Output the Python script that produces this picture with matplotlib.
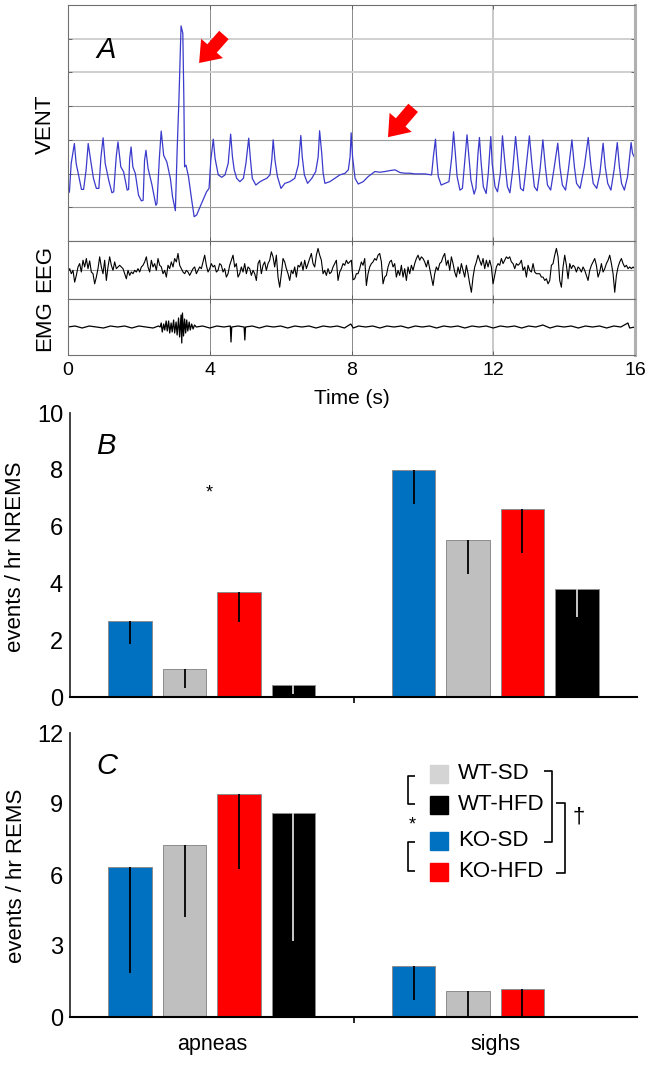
import numpy as np
import matplotlib
matplotlib.use('Agg')
import matplotlib.pyplot as plt
from matplotlib.patches import FancyArrowPatch

plt.rcParams['font.family'] = ['Liberation Sans', 'DejaVu Sans']

# ---------------- panel A data ----------------
time_ticks = [0, 4, 8, 12, 16]

# ventilation trace, (time s, grid units)
vent_pts = [
    (0.00, 1.40), (0.04, 1.46), (0.09, 2.30), (0.18, 2.89), (0.23, 2.30), (0.28, 2.05), (0.38, 1.53), (0.44, 1.53),
    (0.51, 2.10), (0.57, 2.89), (0.66, 2.25), (0.72, 1.85), (0.80, 1.56), (0.87, 1.56),
    (0.93, 2.49), (0.99, 3.06), (1.05, 2.30), (1.15, 1.80), (1.24, 1.43), (1.29, 1.46),
    (1.36, 2.49), (1.41, 2.94), (1.49, 2.20), (1.57, 2.05), (1.67, 1.51), (1.71, 1.53),
    (1.74, 2.44), (1.78, 2.79), (1.83, 2.20), (1.90, 2.00), (1.99, 1.36), (2.07, 1.19), (2.12, 1.21),
    (2.16, 2.39), (2.20, 2.69), (2.26, 2.15), (2.37, 1.66), (2.48, 1.06), (2.51, 1.11),
    (2.58, 2.49), (2.63, 3.26), (2.70, 2.54), (2.79, 2.34), (2.89, 1.85), (2.95, 1.31), (3.03, 0.90),
    (3.08, 2.70), (3.13, 4.18), (3.19, 6.38), (3.24, 6.16), (3.27, 4.18), (3.29, 2.20), (3.33, 2.25),
    (3.40, 1.91), (3.49, 1.22), (3.56, 0.72), (3.63, 0.77), (3.77, 1.12), (3.91, 1.46), (3.98, 1.56),
    (4.03, 2.40), (4.10, 3.02), (4.15, 2.45), (4.24, 1.96), (4.34, 1.89), (4.43, 1.96), (4.52, 2.30),
    (4.59, 3.17), (4.64, 2.50), (4.69, 2.11), (4.76, 1.86), (4.85, 1.76), (4.95, 1.86),
    (5.02, 2.30), (5.10, 3.05), (5.15, 2.40), (5.20, 1.86), (5.30, 1.66), (5.42, 1.76), (5.51, 1.81),
    (5.61, 1.86), (5.70, 1.96), (5.75, 2.40), (5.79, 3.00), (5.84, 2.40), (5.91, 1.91),
    (6.01, 1.56), (6.12, 1.71), (6.26, 1.76), (6.40, 1.86), (6.50, 2.26), (6.57, 3.13), (6.61, 2.50),
    (6.67, 1.96), (6.76, 1.71), (6.88, 1.86), (6.99, 2.06), (7.06, 2.50), (7.10, 3.27),
    (7.16, 2.60), (7.20, 2.01), (7.25, 1.71), (7.39, 1.76), (7.53, 1.86), (7.67, 1.96), (7.82, 2.01),
    (7.91, 2.11), (7.96, 2.50), (7.99, 3.21), (8.03, 2.50), (8.10, 1.86), (8.19, 1.69),
    (8.33, 1.76), (8.47, 1.91), (8.66, 2.06), (8.80, 2.04), (8.94, 2.06), (9.09, 2.09), (9.23, 2.11),
    (9.37, 2.03), (9.51, 2.01), (9.65, 2.01), (9.79, 1.99), (9.93, 1.99), (10.07, 1.99), (10.26, 1.96),
    (10.31, 2.50), (10.37, 3.02), (10.40, 2.50), (10.45, 1.91), (10.53, 1.66), (10.64, 1.71), (10.75, 1.76),
    (10.83, 2.50), (10.88, 3.24), (10.93, 2.60), (10.98, 1.91), (11.06, 1.51), (11.13, 1.56),
    (11.20, 2.40), (11.26, 3.15), (11.32, 2.40), (11.37, 1.81), (11.46, 1.39), (11.51, 1.56),
    (11.57, 2.60), (11.61, 3.07), (11.66, 2.30), (11.72, 1.61), (11.80, 1.41), (11.86, 2.01),
    (11.93, 3.10), (11.97, 2.30), (12.05, 1.61), (12.12, 1.46), (12.20, 2.00),
    (12.26, 3.12), (12.33, 2.30), (12.40, 1.61), (12.47, 1.43), (12.55, 2.11),
    (12.63, 3.10), (12.71, 2.20), (12.77, 1.56), (12.85, 1.49), (12.92, 2.11),
    (13.02, 3.12), (13.09, 2.30), (13.16, 1.61), (13.24, 1.49), (13.32, 2.11),
    (13.40, 3.00), (13.47, 2.20), (13.53, 1.66), (13.62, 1.51), (13.71, 2.11),
    (13.82, 2.90), (13.88, 2.20), (13.95, 1.66), (14.04, 1.51), (14.12, 2.11),
    (14.22, 3.00), (14.29, 2.20), (14.35, 1.71), (14.45, 1.56), (14.57, 2.20),
    (14.68, 3.07), (14.75, 2.30), (14.82, 1.71), (14.92, 1.56), (15.01, 2.01),
    (15.10, 2.90), (15.16, 2.20), (15.23, 1.71), (15.32, 1.51), (15.41, 2.11),
    (15.50, 2.92), (15.56, 2.20), (15.62, 1.71), (15.70, 1.51), (15.79, 1.91),
    (15.89, 2.92), (15.93, 2.60), (16.00, 2.45),
]

# EEG samples (arbitrary units), sampled at eeg_fs
eeg_fs = 21.26
eeg = [
    -7, 3, -12, -2, -37, -17, 8, 18, -7, 28, 8, 33, 3, 26, -7, -12, -42, -22, 3, 38, 8,
    -12, 28, -32, 8, 38, 13, -2, 23, 3, 8, 13, 8, 3, -12, -27, -2, -17, -7, -12, -2,
    -7, 3, -7, 8, 13, 23, 38, 8, -7, 28, 8, 18, -2, 33, 13, 8, -12, -2, -22, 13,
    3, 23, 8, 33, 23, 48, 13, 3, -7, -12, -2, -7, -17, -7, 3, 8, -12, -2, 8, 3,
    23, 43, 13, -7, 3, 18, 8, 13, -7, -2, 18, 13, -7, 3, -22, -12, 13, 28, 43, 8,
    18, -22, -12, 8, -7, 18, -12, 8, 3, -17, -2, -12, -32, 18, 28, -12, 13, 23, -2, 18,
    28, 53, 38, 8, 43, -22, -52, -12, 33, 23, 3, -12, -32, -2, -12, 8, -22, 13, 8, 23,
    -2, 28, 3, 18, 33, 48, 18, 8, 43, 63, 43, 28, -12, -2, -17, 3, -12, -7, 8, 18,
    28, -32, -7, 3, 18, 13, 28, 18, 23, 28,
    -30, -27, -12, -12, 3, 23, 13, 33, -47, -12, 8, 18, 23, 33, 28, 43, 48, 23, -42, -22,
    -17, 8, 23, 28, 8, 18, -22, -2, -17, 13, -22, 3, -32, 8, -12, 13, -2, 18, 33, 43,
    28, 38, 33, 23, 8, 28, 3, -22, -47, -12, 8, -2, 18, 23, 38, 48, 13, 28, -2, 38,
    18, -7, -22, 8, -12, 18, -2, -22, 13, -12, -42, -67, -22, 8, 23, 43, 28, 13, 33, 3,
    28, 8, 28, 8, -42, -17, 8, 18, 13, 33, 18, 28, 38, 33, 38, 23, 18, 3, 18, 13,
    18, 28, -2, 8, -22, 13, -2, -7, 18, -7, -12, -12, -12, -22, -22, -32, -27, -42, -32, 13,
    18, 43, 63, 38, -32, -52, 8, 43, 13, -27, 18, 3, 13, 8, -7, 8, 3, -7, 8, -2,
    -17, -32, -2, 13, 23, 33, 13, -22, -7, 18, -7, 3, 18, 28, 43, 18, -12, -67, -17, 8,
    23, 33, 18, 8, 13, 3, 8, 3, 8, 3,
]

# EMG trace, (time s, arbitrary units)
emg_pts = [
    (0.00, 0), (0.20, 1), (0.40, -1), (0.60, 1), (0.80, 0), (1.00, -1), (1.20, 1), (1.40, 0),
    (1.60, 1), (1.80, -1), (2.00, 1), (2.20, 0), (2.40, -1), (2.55, 1),
    (2.60, 0), (2.63, 4), (2.66, -5), (2.70, 3), (2.73, -3), (2.77, 6), (2.80, -4), (2.84, 6),
    (2.87, -6), (2.91, 4), (2.94, -5), (2.98, 7), (3.01, -6), (3.05, 5), (3.08, -8), (3.12, 9),
    (3.15, -10), (3.19, 12), (3.21, -16), (3.23, 14), (3.26, -9), (3.29, 8), (3.32, -6), (3.35, 7),
    (3.38, -4), (3.42, 5), (3.45, -3), (3.49, 3), (3.53, -2), (3.57, 2), (3.62, 0),
    (3.80, 1), (4.00, -1), (4.20, 1), (4.40, 0), (4.58, 1), (4.60, -15), (4.62, 0), (4.80, 1),
    (4.97, 0), (4.99, -13), (5.01, 0), (5.20, 1), (5.40, -1), (5.60, 1), (5.80, 0), (6.00, 1),
    (6.20, -1), (6.40, 1), (6.60, 0), (6.80, 1), (7.00, -1), (7.20, 1), (7.40, 0), (7.60, 1),
    (7.80, -1), (7.98, 3), (8.05, -1), (8.20, 1), (8.40, 0), (8.60, 1), (8.80, -1), (9.00, 1),
    (9.20, 0), (9.40, 1), (9.60, -1), (9.80, 1), (10.00, 0), (10.20, 1), (10.40, -1), (10.60, 1),
    (10.80, 0), (11.00, 1), (11.20, -1), (11.40, 1), (11.60, 0), (11.80, 1), (12.00, -1),
    (12.20, 1), (12.40, 0), (12.60, 1), (12.80, -1), (13.00, 1), (13.20, 0), (13.40, 2),
    (13.60, -1), (13.80, 1), (14.00, 0), (14.20, 1), (14.40, -1), (14.60, 1), (14.80, 0),
    (15.00, 1), (15.20, -1), (15.40, 1), (15.60, 0), (15.80, 4), (15.85, -1), (16.00, 0),
]

# ---------------- panels B / C data ----------------
groups = ['apneas', 'sighs']
bar_order = ['KO-SD', 'WT-SD', 'KO-HFD', 'WT-HFD']
nrems_mean = [[2.68, 7.98], [1.00, 5.52], [3.70, 6.63], [0.41, 3.80]]
nrems_err = [[0.80, 1.17], [0.67, 1.18], [1.06, 1.56], [0.32, 0.99]]
rems_mean = [[6.34, 2.14], [7.25, 1.10], [9.42, 1.17], [8.62, 0.00]]
rems_err = [[4.48, 1.44], [3.01, 1.10], [3.17, 1.17], [5.42, 0.00]]
legend_order = ['WT-SD', 'WT-HFD', 'KO-SD', 'KO-HFD']

colors = {'KO-SD': '#0070C0', 'WT-SD': '#BFBFBF', 'KO-HFD': '#FF0000', 'WT-HFD': '#000000'}
legend_colors = {'KO-SD': '#0070C0', 'WT-SD': '#D4D4D4', 'KO-HFD': '#FF0000', 'WT-HFD': '#000000'}
err_colors = {'KO-SD': 'black', 'WT-SD': 'black', 'KO-HFD': 'black', 'WT-HFD': '#D9D9D9'}

W, H = 649, 1065
fig = plt.figure(figsize=(W / 100, H / 100), dpi=100)


def box(x0, y0, x1, y1):
    return [x0 / W, 1 - y1 / H, (x1 - x0) / W, (y1 - y0) / H]


ax_v = fig.add_axes(box(68, 5, 635, 241))
ax_e = fig.add_axes(box(68, 241, 635, 299), sharex=ax_v)
ax_m = fig.add_axes(box(68, 299, 635, 355), sharex=ax_v)
ax_b = fig.add_axes(box(70, 413, 637, 697))
ax_c = fig.add_axes(box(70, 733, 637, 1017))

# ---------------- panel A ----------------
for ax in (ax_v, ax_e, ax_m):
    ax.set_xlim(0, 16)
    ax.set_xticks(time_ticks)
    ax.tick_params(direction='in', length=3, width=0.6, color='#555555', top=True, right=True,
                   labelbottom=False, labelleft=False)
    for s in ax.spines.values():
        s.set_color('#707070')
        s.set_linewidth(0.8)
    ax.spines['right'].set_color('#b0b0b0')
    ax.spines['right'].set_linewidth(2.2)
    ax.axvline(4, color='#8a8a8a', lw=0.7, zorder=0)
    ax.axvline(8, color='#8a8a8a', lw=0.7, zorder=0)
    ax.axvline(12, color='#c4c4c4', lw=1.3, zorder=0)

ax_v.set_ylim(0, 7)
ax_v.set_yticks(range(8))
for g in range(1, 7):
    if g >= 5:
        ax_v.axhline(g, color='#d0d0d0', lw=1.4, zorder=0)
    else:
        ax_v.axhline(g, color='#9a9a9a', lw=0.8, zorder=0)
vt = [p[0] for p in vent_pts]
vv = [p[1] for p in vent_pts]
ax_v.plot(vt, vv, color='#3a3acc', lw=0.9)
ax_v.text(1.07, 5.68, 'A', fontsize=21, style='italic', ha='center', va='center')

for tail, tip in [((4.40, 6.11), (3.70, 5.28)), ((9.74, 3.95), (9.03, 3.08))]:
    ax_v.add_patch(FancyArrowPatch(tail, tip, arrowstyle='simple,head_length=1.0,head_width=1.5,tail_width=0.65',
                                   mutation_scale=14, color='#FF0000', shrinkA=0, shrinkB=0, lw=0))

ax_e.set_ylim(-87, 85)
ax_e.set_yticks([-87, 85])
ax_e.axhline(0, color='#9a9a9a', lw=0.8, zorder=0)
eeg_t = np.arange(len(eeg)) / eeg_fs
ax_e.plot(eeg_t, eeg, color='black', lw=0.8)

ax_m.set_ylim(-28, 28)
ax_m.set_yticks([-28, 28])
ax_m.plot([p[0] for p in emg_pts], [p[1] for p in emg_pts], color='black', lw=0.9)
ax_m.tick_params(labelbottom=True, labelsize=14, pad=5)

fig.text(45 / W, 1 - 124 / H, 'VENT', rotation=90, fontsize=16, ha='center', va='center')
fig.text(45 / W, 1 - 269 / H, 'EEG', rotation=90, fontsize=16, ha='center', va='center')
fig.text(45 / W, 1 - 326 / H, 'EMG', rotation=90, fontsize=16, ha='center', va='center')
fig.text(352 / W, 1 - 399 / H, 'Time (s)', fontsize=15, ha='center', va='center')

# ---------------- panels B and C ----------------
x = np.arange(len(groups))
width = 0.153
step = 0.192
offsets = [-1.5, -0.5, 0.5, 1.5]


def draw_bars(ax, means, errs):
    for i, name in enumerate(bar_order):
        xs = x + offsets[i] * step
        ax.bar(xs, means[i], width, color=colors[name], edgecolor='#8c8c8c', linewidth=0.7, zorder=2)
        ax.errorbar(xs, means[i], yerr=[errs[i], np.zeros(len(groups))], fmt='none',
                    ecolor=err_colors[name], elinewidth=1.3, capsize=0, zorder=3)
    ax.set_xlim(-0.5, 1.5)
    for s in ['top', 'right']:
        ax.spines[s].set_visible(False)
    ax.spines['left'].set_color('#333333')
    ax.spines['left'].set_linewidth(1.3)
    ax.spines['bottom'].set_linewidth(1.5)
    ax.set_xticks(x)
    ax.set_xticks([0.5], minor=True)
    ax.tick_params(axis='x', which='major', length=0)
    ax.tick_params(axis='x', which='minor', length=4, width=1.2, direction='out')
    ax.tick_params(axis='y', length=0, labelsize=17, pad=5)


draw_bars(ax_b, nrems_mean, nrems_err)
ax_b.set_ylim(0, 10)
ax_b.set_yticks(range(0, 11, 2))
ax_b.set_xticklabels([])
ax_b.text(-0.373, 8.84, 'B', fontsize=21, style='italic', ha='center', va='center')
ax_b.text(-0.01, 7.2, '*', fontsize=13, ha='center', va='center')

draw_bars(ax_c, rems_mean, rems_err)
ax_c.set_ylim(0, 12)
ax_c.set_yticks(range(0, 13, 3))
ax_c.set_xticklabels(groups, fontsize=15.5)
ax_c.tick_params(axis='x', which='major', pad=12)
ax_c.text(-0.369, 10.6, 'C', fontsize=21, style='italic', ha='center', va='center')

fig.text(16 / W, 1 - 557 / H, 'events / hr NREMS', rotation=90, fontsize=16, ha='center', va='center')
fig.text(17 / W, 1 - 876 / H, 'events / hr REMS', rotation=90, fontsize=16, ha='center', va='center')

# legend with significance brackets
leg_y = [10.27, 8.96, 7.44, 6.14]
for name, yy in zip(legend_order, leg_y):
    ax_c.plot([0.800], [yy], marker='s', ms=13, color=legend_colors[name], mec=legend_colors[name], clip_on=False)
    ax_c.text(0.870, yy, name, fontsize=16, ha='left', va='center')

bk = dict(color='black', lw=1.2, clip_on=False, solid_capstyle='butt')
ax_c.plot([0.717, 0.692, 0.692, 0.717], [10.18, 10.18, 9.00, 9.00], **bk)
ax_c.plot([0.717, 0.692, 0.692, 0.717], [7.41, 7.41, 6.17, 6.17], **bk)
ax_c.plot([1.171, 1.200, 1.200, 1.171], [10.41, 10.41, 7.41, 7.41], **bk)
ax_c.plot([1.214, 1.246, 1.246, 1.214], [9.06, 9.06, 6.10, 6.10], **bk)
ax_c.text(0.706, 8.1, '*', fontsize=13, ha='center', va='center')
ax_c.text(1.295, 8.45, '\u2020', fontsize=16, ha='center', va='center')

fig.savefig('out.png', dpi=100)
